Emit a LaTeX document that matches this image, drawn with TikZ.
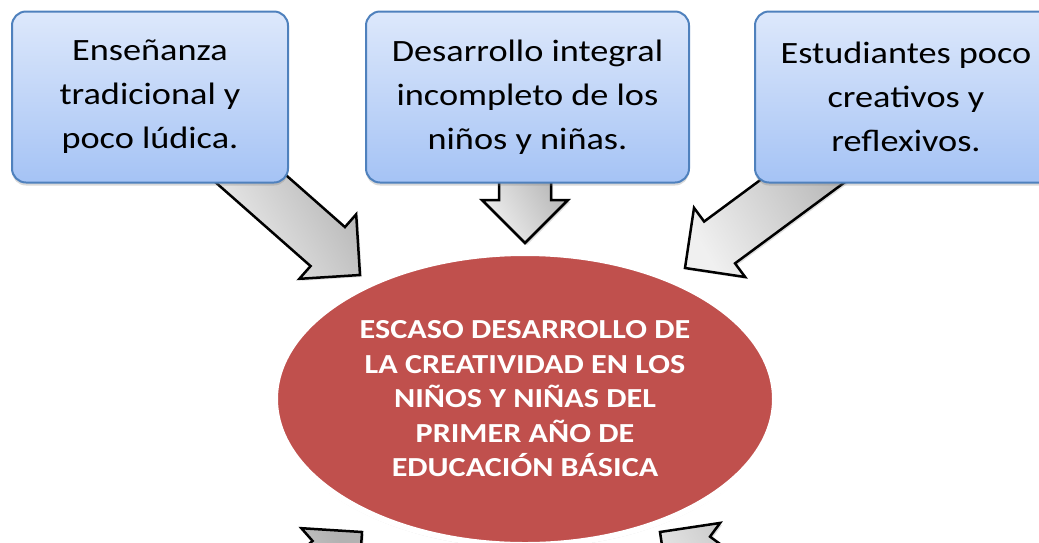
\documentclass[tikz,border=0pt]{standalone}
\usepackage{fontspec}
\setmainfont{Carlito}[FakeStretch=1.17]
\usetikzlibrary{shapes.geometric,shadows,calc,positioning}

\definecolor{boxtop}{HTML}{DDE8FB}
\definecolor{boxbot}{HTML}{A5C3F5}
\definecolor{boxline}{HTML}{4F81BD}
\definecolor{probred}{HTML}{C0504D}

% big block arrow from #1 (tail) to #2 (tip)
\newcommand\flechagrande[2]{%
  \coordinate (cuello) at ($(#2)!43pt!(#1)$);
  \draw[flecha] ($(#1)!26pt!90:(#2)$) -- ($(cuello)!26pt!90:(#2)$)
    -- ($(cuello)!43pt!90:(#2)$) -- (#2) -- ($(cuello)!43pt!-90:(#2)$)
    -- ($(cuello)!26pt!-90:(#2)$) -- ($(#1)!26pt!-90:(#2)$) -- cycle;}

\begin{document}
\begin{tikzpicture}[x=1pt,y=-1pt,node distance=2cm]
  \tikzset{
    causa/.style={draw=boxline, line width=2pt, rounded corners=14pt,
      top color=boxtop, bottom color=boxbot, minimum height=171pt,
      align=center, font=\fontsize{31}{44}\selectfont,
      drop shadow={opacity=0.3, shadow xshift=0pt, shadow yshift=-3pt}},
    problema/.style={ellipse, draw=white, line width=6pt, fill=probred,
      minimum width=500pt, minimum height=292pt, inner sep=0pt,
      text=white, align=center, font=\bfseries\fontsize{27.5}{34.5}\selectfont,
      drop shadow={opacity=0.3, shadow xshift=0pt, shadow yshift=-3pt}},
    flecha/.style={draw=black, line width=2.5pt, line join=miter,
      left color=black!6, right color=black!30, shading angle=120,
      drop shadow={opacity=0.25, shadow xshift=2pt, shadow yshift=-2pt}}
  }
  \useasboundingbox (0,0) rectangle (1039,542);
  \clip (0,0) rectangle (1039,542);

  % arrows first, so boxes and ellipse lie on top
  \coordinate (colaI) at (225,156);  \coordinate (puntaI) at (360,275);
  \coordinate (colaC) at (525,160);  \coordinate (puntaC) at (525,243);
  \coordinate (colaD) at (846,149);  \coordinate (puntaD) at (685,268);
  \coordinate (colaBI) at (227,651); \coordinate (puntaBI) at (362,532);
  \coordinate (colaBD) at (805,639); \coordinate (puntaBD) at (660,532);
  \flechagrande{colaI}{puntaI}
  \flechagrande{colaC}{puntaC}
  \flechagrande{colaD}{puntaD}
  \flechagrande{colaBI}{puntaBI}
  \flechagrande{colaBD}{puntaBD}

  \node[causa, minimum width=276pt] (c1) at (150,97)
    {Enseñanza\\tradicional y\\poco lúdica.};
  \node[causa, minimum width=323pt, right=76pt of c1] (c2)
    {Desarrollo integral\\incompleto de los\\niños y niñas.};
  \node[causa, minimum width=302pt, right=64pt of c2] (c3)
    {Estudiantes poco\\creativos y\\reflexivos.};

  \node[problema] (prob) at (525,399)
    {ESCASO DESARROLLO DE\\LA CREATIVIDAD EN LOS\\NIÑOS Y NIÑAS DEL\\PRIMER AÑO DE\\EDUCACIÓN BÁSICA};
\end{tikzpicture}
\end{document}
